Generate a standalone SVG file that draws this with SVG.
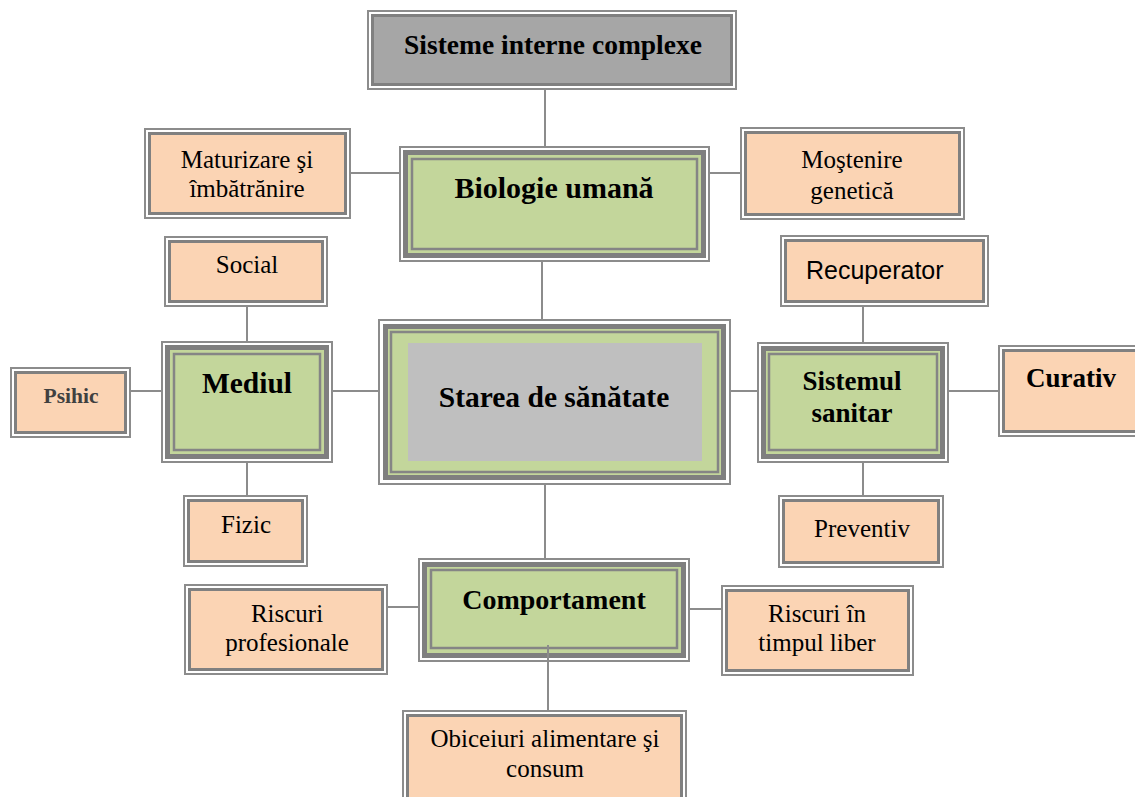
<svg xmlns="http://www.w3.org/2000/svg" width="1135" height="797" viewBox="0 0 1135 797">
<style>
.bg{fill:#ffffff}
.ol{fill:#ffffff;stroke:#8c8c8c;stroke-width:2}
.oi{fill:#FBD4B4;stroke:#808080;stroke-width:3}
.gi{fill:#A6A6A6;stroke:#808080;stroke-width:3}
.gt{fill:#C3D69B;stroke:#7f7f7f;stroke-width:5}
.gn{fill:none;stroke:#858585;stroke-width:2.5}
.cn{stroke:#8c8c8c;stroke-width:2;fill:none}
.tb{font-family:"Liberation Serif","Times New Roman",serif;font-weight:bold;fill:#000;text-anchor:middle}
.tn{font-family:"Liberation Serif","Times New Roman",serif;fill:#000;text-anchor:middle;font-size:25px}
.ts{font-family:"Liberation Sans",Arial,sans-serif;fill:#000;font-size:25px}
</style>
<rect class="bg" x="0" y="0" width="1135" height="797"/>

<g id="sisteme">
<rect class="ol" x="368" y="11" width="368" height="78"/>
<rect class="gi" x="372.5" y="15.5" width="359" height="69"/>
<text class="tb" x="553" y="54" font-size="27.5">Sisteme interne complexe</text>
</g>

<g id="biologie">
<rect class="ol" x="400" y="147" width="309" height="114"/>
<rect class="gt" x="405.5" y="152.5" width="298" height="103"/>
<rect class="gn" x="412" y="159" width="285" height="90"/>
<text class="tb" x="554" y="198" font-size="30">Biologie umană</text>
</g>

<g id="maturizare">
<rect class="ol" x="145" y="129" width="205" height="89"/>
<rect class="oi" x="149.5" y="133.5" width="196" height="80"/>
<text class="tn" x="247" y="168">Maturizare şi</text>
<text class="tn" x="247" y="197">îmbătrănire</text>
</g>

<g id="mostenire">
<rect class="ol" x="741" y="128" width="223" height="91"/>
<rect class="oi" x="745.5" y="132.5" width="214" height="82"/>
<text class="tn" x="852" y="168" font-size="26">Moştenire</text>
<text class="tn" x="852" y="199" font-size="26">genetică</text>
</g>

<g id="social">
<rect class="ol" x="165" y="237" width="162" height="69"/>
<rect class="oi" x="169.5" y="241.5" width="153" height="60"/>
<text class="tn" x="247" y="273" font-size="23">Social</text>
</g>

<g id="recuperator">
<rect class="ol" x="781" y="236" width="207" height="70"/>
<rect class="oi" x="785.5" y="240.5" width="198" height="61"/>
<text class="ts" x="806" y="279">Recuperator</text>
</g>

<g id="psihic">
<rect class="ol" x="11" y="368" width="119" height="69"/>
<rect class="oi" x="15.5" y="372.5" width="110" height="60"/>
<text class="tb" x="71" y="403" font-size="21.5" style="fill:#404040">Psihic</text>
</g>

<g id="mediul">
<rect class="ol" x="162" y="342" width="170" height="120"/>
<rect class="gt" x="167.5" y="347.5" width="159" height="109"/>
<rect class="gn" x="174" y="354" width="146" height="96"/>
<text class="tb" x="247" y="393" font-size="29.5">Mediul</text>
</g>

<g id="starea">
<rect class="ol" x="379" y="320" width="351" height="164"/>
<rect class="gt" x="385.5" y="326.5" width="338" height="151"/>
<rect class="gn" x="391" y="332" width="327" height="140"/>
<rect x="408" y="343" width="294" height="118" fill="#BFBFBF"/>
<text class="tb" x="554" y="407" font-size="29.5">Starea de sănătate</text>
</g>

<g id="sistemul">
<rect class="ol" x="758" y="343" width="190" height="119"/>
<rect class="gt" x="763.5" y="348.5" width="179" height="108"/>
<rect class="gn" x="769" y="354" width="168" height="96"/>
<text class="tb" x="852" y="390" font-size="27">Sistemul</text>
<text class="tb" x="852" y="422" font-size="27">sanitar</text>
</g>

<g id="curativ">
<rect class="ol" x="999" y="346" width="150" height="90"/>
<rect class="oi" x="1003.5" y="350.5" width="141" height="81"/>
<text class="tb" x="1071" y="387" font-size="27">Curativ</text>
</g>

<g id="fizic">
<rect class="ol" x="184" y="496" width="123" height="70"/>
<rect class="oi" x="188.5" y="500.5" width="114" height="61"/>
<text class="tn" x="246" y="533" font-size="22">Fizic</text>
</g>

<g id="preventiv">
<rect class="ol" x="779" y="496" width="164" height="71"/>
<rect class="oi" x="783.5" y="500.5" width="155" height="62"/>
<text class="tn" x="862" y="537" font-size="27">Preventiv</text>
</g>

<g id="comportament">
<rect class="ol" x="419" y="559" width="270" height="102"/>
<rect class="gt" x="424.5" y="564.5" width="259" height="91"/>
<rect class="gn" x="431" y="570" width="246" height="78"/>
<text class="tb" x="554" y="609" font-size="28">Comportament</text>
</g>

<g id="riscuri-prof">
<rect class="ol" x="185" y="585" width="202" height="89"/>
<rect class="oi" x="189.5" y="589.5" width="193" height="80"/>
<text class="tn" x="287" y="622">Riscuri</text>
<text class="tn" x="287" y="651">profesionale</text>
</g>

<g id="riscuri-timp">
<rect class="ol" x="722" y="586" width="191" height="89"/>
<rect class="oi" x="726.5" y="590.5" width="182" height="80"/>
<text class="tn" x="817" y="622">Riscuri în</text>
<text class="tn" x="817" y="651">timpul liber</text>
</g>

<g id="obiceiuri">
<rect class="ol" x="403" y="711" width="283" height="95"/>
<rect class="oi" x="407.5" y="715.5" width="274" height="86"/>
<text class="tn" x="545" y="747">Obiceiuri alimentare şi</text>
<text class="tn" x="545" y="777">consum</text>
</g>

<g id="connectors">
<line class="cn" x1="545" y1="90" x2="545" y2="146"/>
<line class="cn" x1="542" y1="262" x2="542" y2="319"/>
<line class="cn" x1="351" y1="173" x2="401" y2="173"/>
<line class="cn" x1="708" y1="173" x2="741" y2="173"/>
<line class="cn" x1="247" y1="307" x2="247" y2="342"/>
<line class="cn" x1="131" y1="391" x2="163" y2="391"/>
<line class="cn" x1="333" y1="391" x2="379" y2="391"/>
<line class="cn" x1="247" y1="463" x2="247" y2="496"/>
<line class="cn" x1="730" y1="391" x2="758" y2="391"/>
<line class="cn" x1="863" y1="307" x2="863" y2="343"/>
<line class="cn" x1="949" y1="391" x2="999" y2="391"/>
<line class="cn" x1="863" y1="463" x2="863" y2="496"/>
<line class="cn" x1="545" y1="485" x2="545" y2="559"/>
<line class="cn" x1="388" y1="607" x2="420" y2="607"/>
<line class="cn" x1="689" y1="609" x2="722" y2="609"/>
<line class="cn" x1="548" y1="645" x2="548" y2="711"/>
</g>
</svg>
